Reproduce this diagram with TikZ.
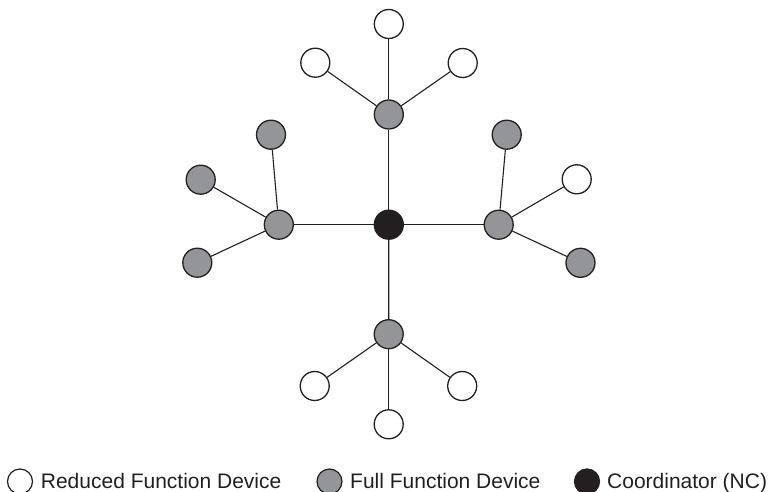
\documentclass[tikz,border=0pt]{standalone}
\usepackage{fontspec}
\setmainfont{Liberation Sans}
\definecolor{ink}{HTML}{231F20}
\definecolor{ffd}{HTML}{939598}
\tikzset{
  dev/.style={circle, draw=ink, line width=1.3pt, minimum size=29pt, inner sep=0pt},
  rfd/.style={dev, fill=white},
  ffdn/.style={dev, fill=ffd},
  coord/.style={dev, fill=ink},
  leg/.style={circle, draw=ink, line width=1.2pt, minimum size=25pt, inner sep=0pt},
  link/.style={draw=ink, line width=1.1pt},
  legtext/.style={anchor=base west, inner sep=0pt, font=\fontsize{21}{25}\selectfont, text=ink}
}
\begin{document}
\begin{tikzpicture}[x=1pt, y=-1pt]
\useasboundingbox (0,0) rectangle (769,492);
% nodes
\node[coord] (c) at (388.8,224.7) {};
\node[ffdn] (t) at (388.8,114.5) {};
\node[ffdn] (l) at (278.8,224.7) {};
\node[ffdn] (r) at (498.7,224.7) {};
\node[ffdn] (b) at (388.7,334.2) {};
\node[rfd] (t1) at (388.8,24) {};
\node[rfd] (t2) at (315.3,62.7) {};
\node[rfd] (t3) at (462.7,63) {};
\node[ffdn] (l1) at (271,134.7) {};
\node[ffdn] (l2) at (200.7,179.7) {};
\node[ffdn] (l3) at (197.3,262.7) {};
\node[ffdn] (r1) at (506.7,134.7) {};
\node[rfd] (r2) at (576.7,179.3) {};
\node[ffdn] (r3) at (580.5,262.8) {};
\node[rfd] (b1) at (314.7,386) {};
\node[rfd] (b2) at (462.2,386) {};
\node[rfd] (b3) at (388.7,424.3) {};
% links
\draw[link] (c) -- (t);
\draw[link] (c) -- (l);
\draw[link] (c) -- (r);
\draw[link] (c) -- (b);
\draw[link] (t) -- (t1);
\draw[link] (t) -- (t2);
\draw[link] (t) -- (t3);
\draw[link] (l) -- (l1);
\draw[link] (l) -- (l2);
\draw[link] (l) -- (l3);
\draw[link] (r) -- (r1);
\draw[link] (r) -- (r2);
\draw[link] (r) -- (r3);
\draw[link] (b) -- (b1);
\draw[link] (b) -- (b2);
\draw[link] (b) -- (b3);
% legend
\node[leg, fill=white] (k1) at (20,481.5) {};
\node[legtext] (k1t) at (40.7,488.3) {Reduced Function Device};
\node[leg, fill=ffd] (k2) at (329.5,481.5) {};
\node[legtext] (k2t) at (350,488.3) {Full Function Device};
\node[leg, fill=ink] (k3) at (587,481.5) {};
\node[legtext] (k3t) at (607,488.3) {Coordinator (NC)};
\end{tikzpicture}
\end{document}
